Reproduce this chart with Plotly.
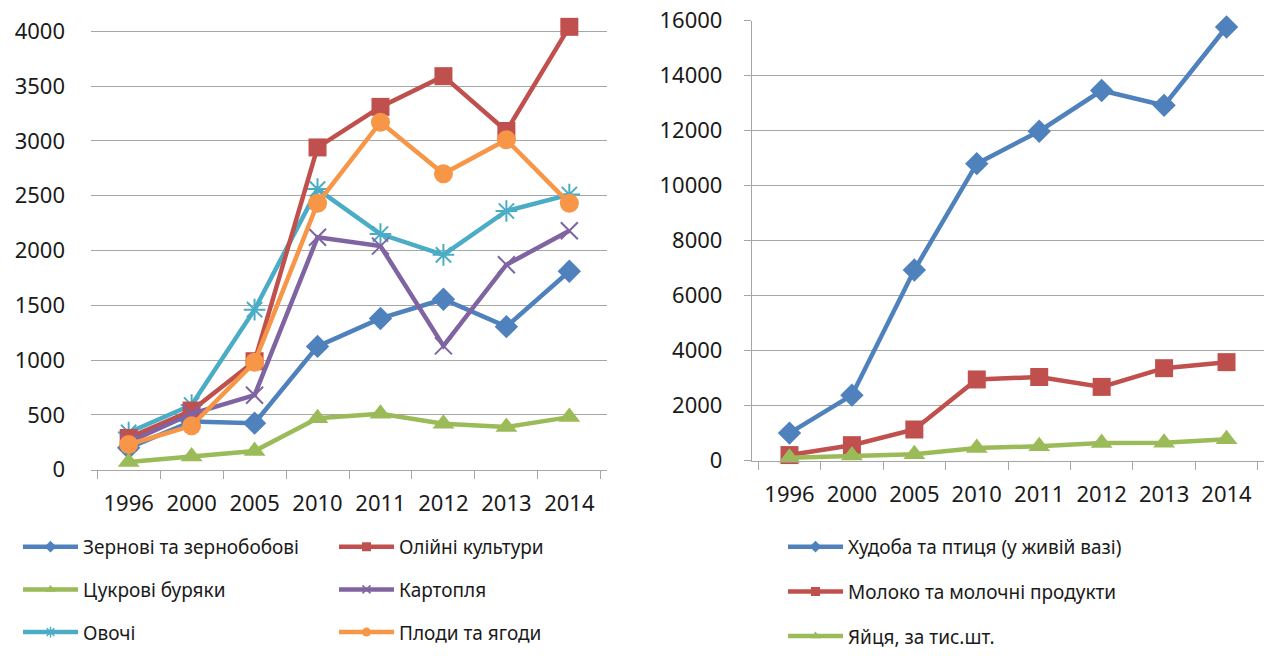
import plotly.graph_objects as go

years = ["1996", "2000", "2005", "2010", "2011", "2012", "2013", "2014"]

# Left chart: crop production
grain = [200, 440, 425, 1125, 1380, 1555, 1305, 1810]
oil = [290, 540, 990, 2940, 3310, 3590, 3090, 4040]
sugar_beet = [70, 120, 170, 470, 510, 420, 390, 480]
potato = [250, 510, 680, 2120, 2040, 1130, 1870, 2180]
vegetables = [340, 590, 1460, 2560, 2150, 1960, 2360, 2510]
fruits = [230, 400, 980, 2430, 3170, 2700, 3010, 2430]

# Right chart: livestock production
livestock = [1000, 2380, 6930, 10800, 11980, 13460, 12920, 15770]
milk = [200, 560, 1130, 2950, 3040, 2680, 3360, 3580]
eggs = [100, 180, 230, 460, 520, 640, 650, 780]

left_names = ["Зернові та зернобобові", "Олійні культури", "Цукрові буряки",
              "Картопля", "Овочі", "Плоди та ягоди"]
right_names = ["Худоба та птиця (у живій вазі)", "Молоко та молочні продукти",
               "Яйця, за тис.шт."]

BLUE = "#4F81BD"
RED = "#C0504D"
GREEN = "#9BBB59"
PURPLE = "#8064A2"
TEAL = "#4BACC6"
ORANGE = "#F79646"

FONT = "Noto Sans"
GRID = "#a6a6a6"

fig = go.Figure()

def add(y, name, color, symbol, size, xa, ya, legend, open_sym=False):
    marker = dict(symbol=symbol, size=size, color=color)
    lmarker = dict(symbol=symbol, size=max(8, size // 2), color=color)
    if open_sym:
        marker["line"] = dict(color=color, width=2)
        lmarker["line"] = dict(color=color, width=1.5)
    else:
        marker["line"] = dict(width=0)
        lmarker["line"] = dict(width=0)
    fig.add_trace(go.Scatter(
        x=years, y=y, name=name, mode="lines+markers",
        line=dict(color=color, width=4.5), marker=marker,
        xaxis=xa, yaxis=ya, showlegend=False, legendgroup=name,
        cliponaxis=False,
    ))
    # legend entry with a small marker, as in the reference
    fig.add_trace(go.Scatter(
        x=[years[0]], y=[None], name=name, mode="lines+markers",
        line=dict(color=color, width=4.5), marker=lmarker,
        xaxis=xa, yaxis=ya, legend=legend, legendgroup=name,
        hoverinfo="skip",
    ))

# left legend column 1
add(grain, left_names[0], BLUE, "diamond", 18, "x", "y", "legend")
add(sugar_beet, left_names[2], GREEN, "triangle-up", 19, "x", "y", "legend")
add(vegetables, left_names[4], TEAL, "asterisk-open", 18, "x", "y", "legend", True)
# left legend column 2
add(oil, left_names[1], RED, "square", 18, "x", "y", "legend2")
add(potato, left_names[3], PURPLE, "x-thin-open", 17, "x", "y", "legend2", True)
add(fruits, left_names[5], ORANGE, "circle", 19, "x", "y", "legend2")
# right legend
add(livestock, right_names[0], BLUE, "diamond", 18, "x2", "y2", "legend3")
add(milk, right_names[1], RED, "square", 18, "x2", "y2", "legend3")
add(eggs, right_names[2], GREEN, "triangle-up", 19, "x2", "y2", "legend3")

W, H = 1273, 656

def px_x(p):
    return p / W

def px_y(p):
    return 1 - p / H

tickfont = dict(family=FONT, size=22, color="#1a1a1a")

xcommon = dict(type="category", showline=True, linecolor=GRID, linewidth=1.3,
               ticks="outside", tickson="boundaries", ticklen=8, tickcolor=GRID,
               tickwidth=1.3, showgrid=False, tickfont=tickfont, ticklabelstandoff=14,
               fixedrange=True, automargin=False)

legend_common = dict(font=dict(family=FONT, size=19, color="#1a1a1a"),
                     bgcolor="rgba(0,0,0,0)", orientation="v",
                     xanchor="left", yanchor="top",
                     itemwidth=55, itemclick=False)

# left y: 0 at 477px, 4000 at 31.7px; range extends slightly above 4000
L0, L4000 = 477.0, 31.7
l_max = 4100
l_top = L0 - (L0 - L4000) * l_max / 4000

fig.update_layout(
    width=W, height=H,
    margin=dict(l=0, r=0, t=0, b=0),
    paper_bgcolor="white", plot_bgcolor="white",
    showlegend=True,
    xaxis=dict(domain=[px_x(91), px_x(607)], anchor="y", **xcommon),
    yaxis=dict(domain=[px_y(L0), px_y(l_top)], anchor="x", range=[0, l_max],
               tickvals=list(range(0, 4001, 500)), showgrid=True, gridcolor=GRID,
               gridwidth=1.3, showline=False, zeroline=False, ticks="",
               tickfont=tickfont, ticklabelstandoff=25, fixedrange=True,
               automargin=False),
    xaxis2=dict(domain=[px_x(752), px_x(1264)], anchor="y2", **xcommon),
    yaxis2=dict(domain=[px_y(467.7), px_y(21)], anchor="x2", range=[0, 16000],
                dtick=2000, tickformat="d", showgrid=True, gridcolor=GRID,
                gridwidth=1.3, showline=True, linecolor=GRID, linewidth=1.3,
                zeroline=False, ticks="outside", ticklen=7, tickcolor=GRID,
                tickwidth=1.3, tickfont=tickfont, ticklabelstandoff=17,
                fixedrange=True, automargin=False),
    legend=dict(x=px_x(18), y=px_y(536), tracegroupgap=15, **legend_common),
    legend2=dict(x=px_x(334), y=px_y(536), tracegroupgap=15, **legend_common),
    legend3=dict(x=px_x(783), y=px_y(536), tracegroupgap=17, **legend_common),
)

fig.write_html(
    "out.html",
    config={"displayModeBar": False},
    post_script="document.body.style.margin='0';document.body.style.overflow='hidden';",
)
